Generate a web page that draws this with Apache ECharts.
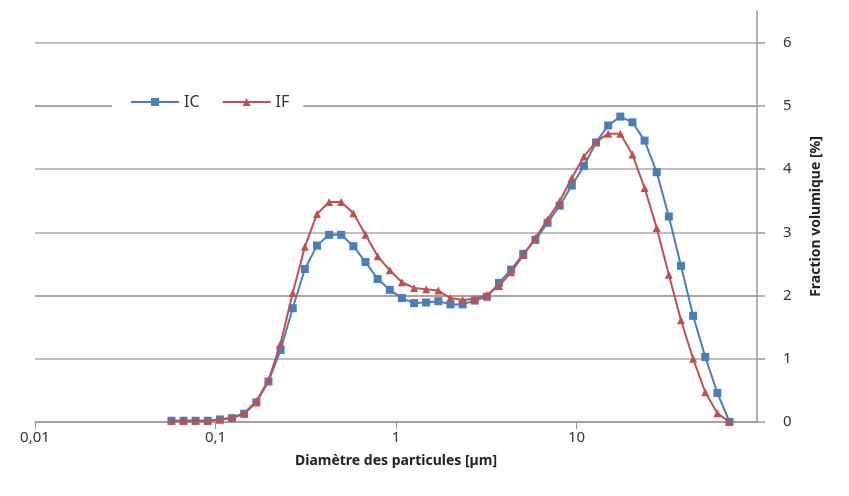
<!DOCTYPE html>
<html>
<head>
<meta charset="utf-8">
<script src="https://cdn.jsdelivr.net/npm/echarts@6/dist/echarts.min.js"></script>
<style>
html,body{margin:0;padding:0;background:#fff;}
#chart{width:849px;height:496px;}
</style>
</head>
<body>
<div id="chart"></div>
<script>
// diametres (µm)
var diametres = [0.0570,0.0665,0.0776,0.0906,0.1058,0.1235,0.1441,0.1683,0.1965,0.2294,
    0.2678,0.3126,0.3649,0.4260,0.4973,0.5806,0.6778,0.7915,0.9238,1.0784,
    1.2589,1.4696,1.7156,2.0032,2.3383,2.7297,3.1867,3.7197,4.3432,5.0699,
    5.9184,6.9087,8.0649,9.4164,10.992,12.832,14.979,17.486,20.417,23.834,
    27.822,32.478,37.914,44.271,51.680,60.328,70.425];
var valeursIC = [0.02,0.02,0.02,0.02,0.04,0.06,0.13,0.31,0.64,1.14,
    1.80,2.42,2.79,2.96,2.96,2.78,2.53,2.26,2.09,1.96,
    1.88,1.89,1.91,1.86,1.86,1.92,1.98,2.20,2.41,2.66,
    2.88,3.15,3.42,3.74,4.05,4.42,4.69,4.83,4.74,4.45,
    3.95,3.25,2.47,1.68,1.03,0.46,0];
var valeursIF = [0.02,0.02,0.02,0.02,0.04,0.07,0.14,0.33,0.66,1.24,
    2.04,2.77,3.29,3.48,3.48,3.30,2.96,2.62,2.40,2.21,
    2.12,2.10,2.08,1.96,1.93,1.95,2.01,2.15,2.37,2.64,
    2.91,3.20,3.49,3.86,4.20,4.43,4.56,4.56,4.23,3.70,
    3.07,2.33,1.61,1.00,0.47,0.14,0];
var yTicks = [0,1,2,3,4,5,6];

var chart = echarts.init(document.getElementById('chart'));

function paires(vals){
    var out = [];
    for(var i in vals){
        out.push([diametres[i], vals[i]]);
    }
    return out;
}

var police = 'Noto Sans';
var option = {
    animation: false,
    grid: {left: 35, right: 92, top: 11, bottom: 74, containLabel: false},
    legend: {
        left: 112, top: 91,
        padding: [3, 14, 3, 18],
        backgroundColor: '#fff',
        itemWidth: 48, itemHeight: 10, itemGap: 22,
        textStyle: {fontFamily: police, fontSize: 16, color: '#333'},
        data: ['IC', 'IF']
    },
    xAxis: {
        type: 'log', logBase: 10, min: 0.01, max: 100,
        name: 'Diamètre des particules [µm]',
        nameLocation: 'middle', nameGap: 32,
        nameTextStyle: {fontFamily: police, fontSize: 14, fontWeight: 'bold', color: '#222'},
        axisLine: {lineStyle: {color: '#999', width: 1.5}},
        axisTick: {show: true, length: 7, lineStyle: {color: '#999'}},
        axisLabel: {
            fontFamily: police, fontSize: 15, color: '#333', margin: 8,
            showMaxLabel: false,
            formatter: function(v){ return String(v).replace('.', ','); }
        },
        splitLine: {show: false},
        minorTick: {show: false}
    },
    yAxis: {
        type: 'value', position: 'right', min: 0, max: 6.5,
        name: 'Fraction volumique [%]',
        nameLocation: 'middle', nameGap: 52, nameRotate: 90,
        nameTextStyle: {fontFamily: police, fontSize: 14, fontWeight: 'bold', color: '#222'},
        axisLine: {show: true, lineStyle: {color: '#999', width: 1.5}},
        axisTick: {show: true, length: 8, customValues: yTicks, lineStyle: {color: '#999', width: 1.5}},
        axisLabel: {fontFamily: police, fontSize: 15, color: '#333', margin: 26, customValues: yTicks},
        splitLine: {
            show: true,
            lineStyle: {color: ['#aaa', '#aaa', '#8d8383', '#aaa', '#aaa', '#8d8383', '#aaa'], width: 1.5}
        }
    },
    series: [
        {
            name: 'IC', type: 'line',
            data: paires(valeursIC),
            symbol: 'rect', symbolSize: 8,
            lineStyle: {width: 2, color: '#4a7ebb'},
            itemStyle: {color: '#4a7ebb'},
            z: 3
        },
        {
            name: 'IF', type: 'line',
            data: paires(valeursIF),
            symbol: 'triangle', symbolSize: 8,
            lineStyle: {width: 2, color: '#c0504d'},
            itemStyle: {color: '#c0504d'},
            z: 4
        }
    ]
};
chart.setOption(option);
</script>
</body>
</html>
